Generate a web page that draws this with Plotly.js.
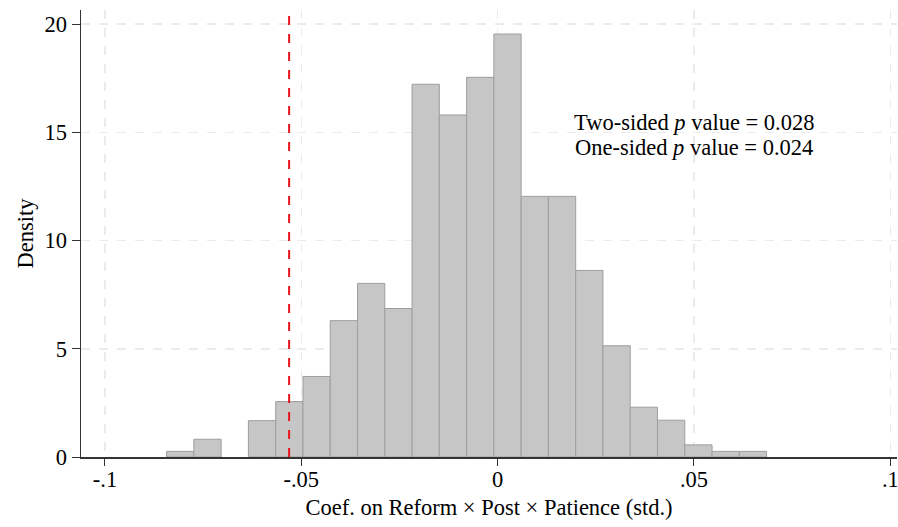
<!DOCTYPE html>
<html>
<head>
<meta charset="utf-8">
<script src="https://cdn.plot.ly/plotly-3.0.1.min.js"></script>
<style>html,body{margin:0;padding:0;background:#fff;}#chart{width:898px;height:527px;}</style>
</head>
<body>
<div id="chart"></div>
<script>
// Histogram bins (left edge of first bin, and bin width)
const binStart = -0.0843;
const binWidth = 0.006945;
// Density of each bin
const density = [0.26, 0.82, 0, 1.68, 2.56, 3.72, 6.30, 8.02, 6.86, 17.22, 15.80, 17.54, 19.54, 12.04, 12.04, 8.62, 5.14, 2.30, 1.70, 0.56, 0.26, 0.26];
// Observed coefficient (red dashed line)
const observed = -0.0531;
const xTicks = [-0.1, -0.05, 0, 0.05, 0.1];
const xTickText = ['-.1', '-.05', '0', '.05', '.1'];
const yTicks = [0, 5, 10, 15, 20];
const annotationLines = ['Two-sided <i>p</i> value = 0.028', 'One-sided <i>p</i> value = 0.024'];
const annotationY = [15.47, 14.31];

const centers = density.map((d, i) => binStart + binWidth * (i + 0.5));
const outline = density.map(d => d > 0 ? 1 : 0);
const FONT = 'Liberation Serif, Times New Roman, serif';
const FS = 22.5;

const traces = [{
  type: 'bar',
  x: centers,
  y: density,
  width: binWidth,
  marker: {color: '#c6c6c6', line: {color: '#9e9e9e', width: outline}},
  hoverinfo: 'x+y',
  showlegend: false
}];

const layout = {
  width: 898, height: 527,
  margin: {l: 81, r: 1, t: 10, b: 70},
  paper_bgcolor: '#fff', plot_bgcolor: '#fff',
  font: {family: FONT, size: FS, color: '#000'},
  bargap: 0,
  xaxis: {
    range: [-0.1061, 0.1017],
    tickvals: xTicks, ticktext: xTickText,
    ticks: 'outside', ticklen: 7, tickcolor: '#333', tickwidth: 1,
    ticklabeloverflow: 'allow',
    ticklabelstandoff: -6,
    showline: true, linecolor: '#333', linewidth: 1.5,
    showgrid: true, gridcolor: '#ebebeb', griddash: 'dash', gridwidth: 1.5,
    zeroline: false,
    tickfont: {family: FONT, size: FS},
    title: {text: 'Coef. on Reform × Post × Patience (std.)', font: {family: FONT, size: FS}, standoff: 8}
  },
  yaxis: {
    range: [0, 20.65],
    tickvals: yTicks,
    ticks: 'outside', ticklen: 8, tickcolor: '#333', tickwidth: 1,
    showline: true, linecolor: '#333', linewidth: 1.5,
    showgrid: true, gridcolor: '#ebebeb', griddash: 'dash', gridwidth: 1.5,
    zeroline: false,
    tickfont: {family: FONT, size: FS},
    title: {text: 'Density', font: {family: FONT, size: FS}, standoff: 4}
  },
  shapes: [{
    type: 'line', xref: 'x', yref: 'paper',
    x0: observed, x1: observed, y0: 0, y1: 1,
    line: {color: '#e8141b', width: 2, dash: 'dash'}
  }],
  annotations: annotationLines.map((t, i) => ({
    x: 0.05, y: annotationY[i], xref: 'x', yref: 'y',
    text: t,
    showarrow: false, align: 'center',
    font: {family: FONT, size: FS, color: '#000'}
  }))
};

Plotly.newPlot('chart', traces, layout, {displayModeBar: false, staticPlot: true});
</script>
</body>
</html>
